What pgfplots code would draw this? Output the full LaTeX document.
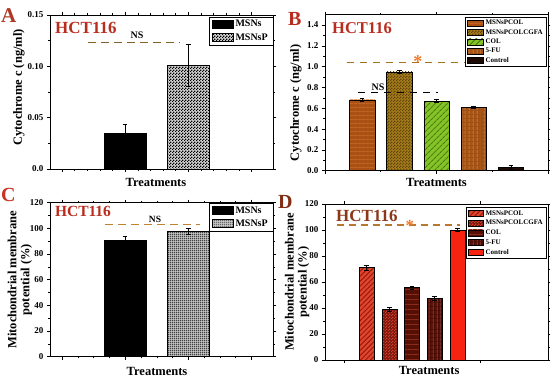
\documentclass[border=0pt]{standalone}
\usepackage{fontspec}
\setmainfont{Liberation Serif}
\usepackage{pgfplots}
\pgfplotsset{compat=1.18}
\usetikzlibrary{patterns,patterns.meta}

\pgfdeclarepatternformonly{finecheck}{\pgfqpoint{0pt}{0pt}}{\pgfqpoint{2.6pt}{2.6pt}}{\pgfqpoint{2.6pt}{2.6pt}}{%
  \pgfpathrectangle{\pgfqpoint{0pt}{0pt}}{\pgfqpoint{1.3pt}{1.3pt}}%
  \pgfpathrectangle{\pgfqpoint{1.3pt}{1.3pt}}{\pgfqpoint{1.3pt}{1.3pt}}%
  \pgfusepath{fill}}
\pgfdeclarepatternformonly{finegrid}{\pgfqpoint{0pt}{0pt}}{\pgfqpoint{2pt}{2pt}}{\pgfqpoint{2pt}{2pt}}{%
  \pgfsetlinewidth{0.55pt}%
  \pgfpathmoveto{\pgfqpoint{0pt}{1pt}}\pgfpathlineto{\pgfqpoint{2pt}{1pt}}%
  \pgfpathmoveto{\pgfqpoint{1pt}{0pt}}\pgfpathlineto{\pgfqpoint{1pt}{2pt}}%
  \pgfusepath{stroke}}

\definecolor{hct}{RGB}{185,45,30}
\definecolor{hctD}{RGB}{140,55,25}
\definecolor{letA}{RGB}{175,55,35}
\definecolor{letB}{RGB}{185,45,30}
\definecolor{letC}{RGB}{200,50,30}
\definecolor{letD}{RGB}{130,45,20}
\definecolor{dashA}{RGB}{130,100,40}
\definecolor{dashB}{RGB}{165,115,30}
\definecolor{dashC}{RGB}{190,130,50}
\definecolor{dashD}{RGB}{185,120,45}
\definecolor{starcol}{RGB}{240,120,40}
\definecolor{b1}{RGB}{170,80,20}\definecolor{b1s}{RGB}{205,115,45}
\definecolor{b2}{RGB}{160,125,25}\definecolor{b2s}{RGB}{105,65,10}
\definecolor{b3}{RGB}{135,195,40}\definecolor{b3s}{RGB}{70,130,10}
\definecolor{b4}{RGB}{160,80,20}\definecolor{b4s}{RGB}{195,110,35}
\definecolor{b5}{RGB}{30,10,5}
\definecolor{d1}{RGB}{225,70,45}\definecolor{d1s}{RGB}{150,25,15}
\definecolor{d2}{RGB}{120,25,15}\definecolor{d2s}{RGB}{210,60,40}
\definecolor{d3}{RGB}{85,15,5}\definecolor{d3s}{RGB}{140,45,25}
\definecolor{d4}{RGB}{75,12,5}\definecolor{d4s}{RGB}{125,35,20}
\definecolor{d5}{RGB}{245,35,15}

\tikzset{hctnode/.style={font=\fontsize{#1}{#1}\selectfont\bfseries}}
\pgfplotsset{
  panel/.style={
    scale only axis, width=223pt, clip=false,
    axis line style={black, line width=0.6pt},
    tick style={black, line width=0.5pt},
    tick align=outside, tick pos=both,
    major tick length=3pt, minor tick length=1.6pt,
    tick label style={font=\fontsize{9}{10}\selectfont\bfseries},
    /pgf/number format/assume math mode=true,
    xlabel={Treatments},
    xlabel style={font=\fontsize{12.5}{13}\selectfont\bfseries, anchor=center},
    ylabel style={font=\fontsize{12.5}{13}\selectfont\bfseries, rotate=0, anchor=center, align=center},
    xticklabels={},
    legend cell align=left,
  },
  mybar/.style={ybar, bar shift=0pt, draw=black, line width=0.5pt,
    error bars/y dir=both, error bars/y explicit,
    error bars/error bar style={black, line width=0.6pt},
    error bars/error mark options={rotate=90, mark size=2.2pt, line width=0.6pt, black}},
}

\begin{document}
\begin{tikzpicture}
\useasboundingbox (0,0) rectangle (550pt,379pt);

% ---------------- Panel A ----------------
\begin{axis}[panel, at={(50pt,210pt)}, anchor=south west, height=154pt,
  xmin=-0.19, xmax=3.34, ymin=0, ymax=0.15,
  ytick={0,0.05,0.1,0.15}, yticklabels={0.0,0.05,0.10,0.15},
  minor y tick num=1, xtick={0,1,2,3}, minor x tick num=4,
  ylabel={Cytochrome c (ng/ml)},
  ylabel style={at={(axis description cs:-0.139,0.53)}},
  xlabel style={at={(axis description cs:0.475,0)}, yshift=-13pt},
  legend style={at={(1,0.99)}, anchor=north east, font=\fontsize{10}{11}\selectfont\bfseries,
    draw=black, line width=0.5pt, inner xsep=3pt, inner ysep=1.5pt, row sep=1pt},
  legend image code/.code={\draw[#1] (0pt,-4pt) rectangle (21pt,4pt);},
]
\addplot[mybar, bar width=0.67, fill=black] coordinates {(1,0.035) +- (0,0.009)};
\addlegendentry{MSNs}
\addplot[mybar, bar width=0.67, fill=gray!35, postaction={pattern=finecheck, pattern color=black}] coordinates {(2,0.101) +- (0,0.020)};
\addlegendentry{MSNsP}
\addplot[forget plot, dash pattern=on 8pt off 5pt, line width=1.5pt, color=dashA] coordinates {(0.41,0.123) (1.87,0.123)};
\node[hctnode=17, text=hct] at (rel axis cs:0.161,0.916) {HCT116};
\node[hctnode=10] at (rel axis cs:0.39,0.87) {NS};
\end{axis}

% ---------------- Panel B ----------------
\begin{axis}[panel, at={(325pt,208.3pt)}, anchor=south west, height=156pt,
  xmin=0, xmax=6, ymin=0, ymax=1.5,
  ytick={0,0.2,...,1.4}, yticklabels={0.0,0.2,0.4,0.6,0.8,1.0,1.2,1.4},
  minor y tick num=1, xtick={0,3,6}, minor x tick num=1,
  ylabel={Cytochrome c (ng/ml)},
  ylabel style={at={(axis description cs:-0.13,0.434)}},
  xlabel style={at={(axis description cs:0.50,0)}, yshift=-11.5pt},
  legend style={at={(0.995,0.985)}, anchor=north east, font=\fontsize{7}{7.5}\selectfont\bfseries,
    draw=black, line width=0.5pt, inner xsep=2pt, inner ysep=1pt, row sep=-0.9pt},
  legend image code/.code={\draw[#1] (0pt,-3pt) rectangle (16pt,3pt);},
]
\addplot[mybar, bar width=0.68, fill=b1, postaction={pattern={Lines[angle=0,distance=4pt,line width=0.9pt]}, pattern color=b1s}] coordinates {(1,0.68) +- (0,0.012)};
\addlegendentry{MSNsPCOL}
\addplot[mybar, bar width=0.68, fill=b2, postaction={pattern=finecheck, pattern color=b2s}] coordinates {(2,0.95) +- (0,0.015)};
\addlegendentry{MSNsPCOLCGFA}
\addplot[mybar, bar width=0.68, fill=b3, postaction={pattern={Lines[angle=45,distance=4pt,line width=1.2pt]}, pattern color=b3s}] coordinates {(3,0.67) +- (0,0.012)};
\addlegendentry{COL}
\addplot[mybar, bar width=0.68, fill=b4, postaction={pattern={Lines[angle=90,distance=4pt,line width=0.9pt]}, pattern color=b4s}] coordinates {(4,0.61) +- (0,0.008)};
\addlegendentry{5-FU}
\addplot[mybar, bar width=0.68, fill=b5] coordinates {(5,0.03) +- (0,0.02)};
\addlegendentry{Control}
\addplot[forget plot, dash pattern=on 7pt off 6pt, line width=1.5pt, color=dashB] coordinates {(0.59,1.04) (5.03,1.04)};
\addplot[forget plot, dash pattern=on 7pt off 6pt, line width=1.2pt, color=black] coordinates {(0.89,0.75) (3.04,0.75)};
\node[hctnode=16.5, text=hct] at (rel axis cs:0.166,0.915) {HCT116};
\node[hctnode=10] at (rel axis cs:0.238,0.537) {NS};
\node[hctnode=18, text=starcol] at (rel axis cs:0.417,0.70) {*};
\end{axis}

% ---------------- Panel C ----------------
\begin{axis}[panel, at={(50pt,22.3pt)}, anchor=south west, height=154pt,
  xmin=-0.19, xmax=3.34, ymin=0, ymax=120,
  ytick={0,20,...,120}, minor y tick num=1, xtick={0,1,2,3}, minor x tick num=3,
  ylabel={Mitochondrial membrane\\potential (\%)},
  ylabel style={at={(axis description cs:-0.135,0.50)}},
  xlabel style={at={(axis description cs:0.48,0)}, yshift=-15pt},
  legend style={at={(1,1)}, anchor=north east, font=\fontsize{10}{11}\selectfont\bfseries,
    draw=black, line width=0.5pt, inner xsep=3pt, inner ysep=1.5pt, row sep=1pt},
  legend image code/.code={\draw[#1] (0pt,-4pt) rectangle (21pt,4pt);},
]
\addplot[mybar, bar width=0.67, fill=black] coordinates {(1,90.4) +- (0,3.8)};
\addlegendentry{MSNs}
\addplot[mybar, bar width=0.67, fill=gray!45, postaction={pattern=finegrid, pattern color=black!80}] coordinates {(2,97.8) +- (0,2.2)};
\addlegendentry{MSNsP}
\addplot[forget plot, dash pattern=on 8pt off 5pt, line width=1.5pt, color=dashC] coordinates {(0.68,103) (2.18,103)};
\node[hctnode=15.5, text=hct] at (rel axis cs:0.148,0.94) {HCT116};
\node[hctnode=9.5] at (rel axis cs:0.471,0.894) {NS};
\end{axis}

% ---------------- Panel D ----------------
\begin{axis}[panel, at={(325pt,19pt)}, anchor=south west, height=156pt,
  xmin=-0.84, xmax=9, ymin=0, ymax=120,
  ytick={0,20,...,120}, minor y tick num=1, xtick={0,6}, minor x tick num=0,
  ylabel={Mitochondrial membrane\\potential (\%)},
  ylabel style={at={(axis description cs:-0.125,0.50)}},
  xlabel style={at={(axis description cs:0.467,0)}, yshift=-10pt},
  legend style={at={(0.995,0.98)}, anchor=north east, font=\fontsize{7}{7.5}\selectfont\bfseries,
    draw=black, line width=0.5pt, inner xsep=2pt, inner ysep=1pt, row sep=-0.4pt},
  legend image code/.code={\draw[#1] (0pt,-3pt) rectangle (15pt,3pt);},
]
\addplot[mybar, bar width=0.66, fill=d1, postaction={pattern={Lines[angle=45,distance=3.5pt,line width=1pt]}, pattern color=d1s}] coordinates {(1,71.0) +- (0,1.8)};
\addlegendentry{MSNsPCOL}
\addplot[mybar, bar width=0.66, fill=d2, postaction={pattern=finecheck, pattern color=d2s}] coordinates {(2,38.8) +- (0,1.5)};
\addlegendentry{MSNsPCOLCGFA}
\addplot[mybar, bar width=0.66, fill=d3, postaction={pattern={Lines[angle=0,distance=5pt,line width=0.8pt]}, pattern color=d3s}] coordinates {(3,55.8) +- (0,1.2)};
\addlegendentry{COL}
\addplot[mybar, bar width=0.66, fill=d4, postaction={pattern={Lines[angle=90,distance=4pt,line width=0.8pt]}, pattern color=d4s}] coordinates {(4,47.4) +- (0,1.6)};
\addlegendentry{5-FU}
\addplot[mybar, bar width=0.66, fill=d5] coordinates {(5,100) +- (0,1.2)};
\addlegendentry{Control}
\addplot[forget plot, dash pattern=on 7pt off 5pt, line width=1.5pt, color=dashD] coordinates {(-0.31,103.8) (5.11,103.8)};
\node[hctnode=17, text=hctD] at (rel axis cs:0.188,0.923) {HCT116};
\node[hctnode=17, text=starcol] at (rel axis cs:0.381,0.86) {*};
\end{axis}

% panel letters
\node[anchor=north west, inner sep=0pt, font=\fontsize{21}{21}\selectfont\bfseries, text=letA] at (1pt,371pt) {A};
\node[anchor=north west, inner sep=0pt, font=\fontsize{20}{20}\selectfont\bfseries, text=letB] at (288pt,367pt) {B};
\node[anchor=north west, inner sep=0pt, font=\fontsize{20}{20}\selectfont\bfseries, text=letC] at (1pt,191pt) {C};
\node[anchor=north west, inner sep=0pt, font=\fontsize{20}{20}\selectfont\bfseries, text=letD] at (278pt,184pt) {D};
\end{tikzpicture}
\end{document}
